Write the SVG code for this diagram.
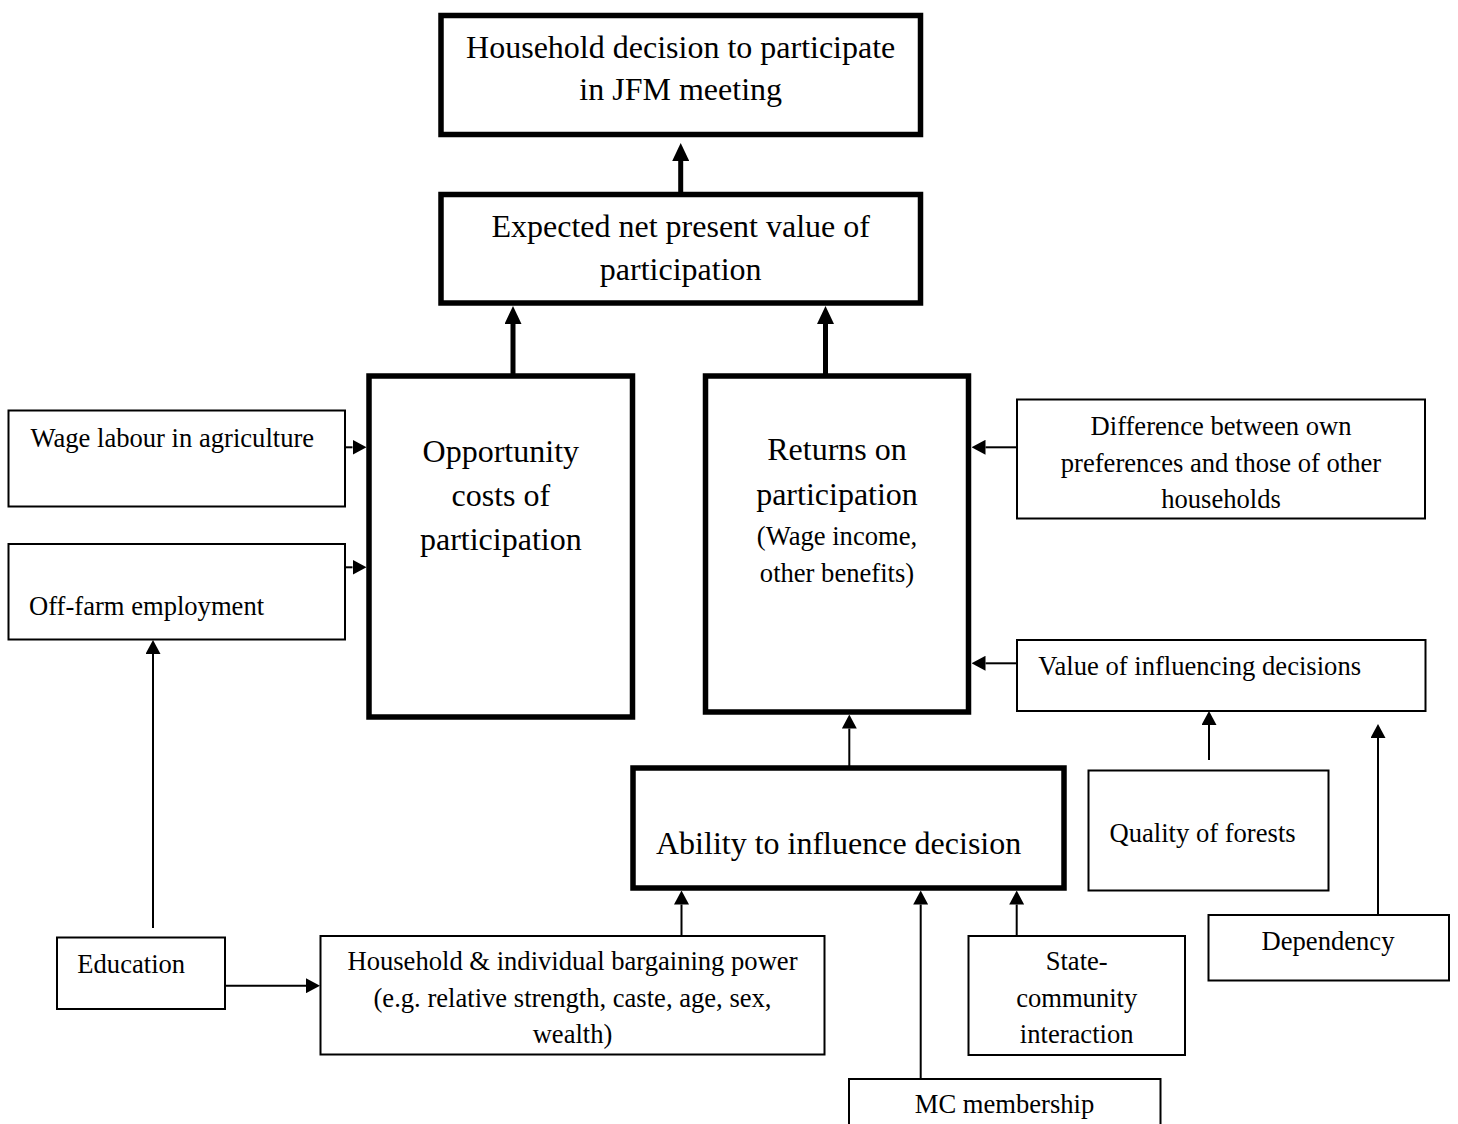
<svg xmlns="http://www.w3.org/2000/svg" width="1458" height="1124" viewBox="0 0 1458 1124">
  <style>
    text { font-family: "Liberation Serif", "Times New Roman", serif; fill: #000; }
    .big { font-size: 32px; }
    .small { font-size: 26.6px; }
    .mid { text-anchor: middle; }
    .thick { fill: #fff; stroke: #000; stroke-width: 5.5; }
    .thin { fill: #fff; stroke: #000; stroke-width: 2; }
    .cthick { stroke: #000; stroke-width: 5; fill: none; }
    .cthin { stroke: #000; stroke-width: 2; fill: none; }
  </style>
  <defs>
    <marker id="ahThick" markerUnits="userSpaceOnUse" viewBox="0 0 18 17" markerWidth="18" markerHeight="17" refX="0" refY="8.5" orient="auto">
      <path d="M0,0 L18,8.5 L0,17 z" fill="#000"/>
    </marker>
    <marker id="ahThin" markerUnits="userSpaceOnUse" viewBox="0 0 14 15" markerWidth="14" markerHeight="15" refX="0" refY="7.5" orient="auto">
      <path d="M0,0 L14,7.5 L0,15 z" fill="#000"/>
    </marker>
  </defs>

  <rect width="1458" height="1124" fill="#fff"/>

  <g id="connectors">
    <line class="cthick" x1="680.7" y1="192" x2="680.7" y2="161" marker-end="url(#ahThick)"/>
    <line class="cthick" x1="513" y1="376" x2="513" y2="324" marker-end="url(#ahThick)"/>
    <line class="cthick" x1="825.5" y1="376" x2="825.5" y2="324" marker-end="url(#ahThick)"/>
    <line class="cthin" x1="345" y1="447.3" x2="352.5" y2="447.3" marker-end="url(#ahThin)"/>
    <line class="cthin" x1="345" y1="567.3" x2="352.5" y2="567.3" marker-end="url(#ahThin)"/>
    <line class="cthin" x1="1017" y1="447.3" x2="985.5" y2="447.3" marker-end="url(#ahThin)"/>
    <line class="cthin" x1="1017" y1="663.3" x2="985.5" y2="663.3" marker-end="url(#ahThin)"/>
    <line class="cthin" x1="849.3" y1="766" x2="849.3" y2="728.5" marker-end="url(#ahThin)"/>
    <line class="cthin" x1="1209" y1="760" x2="1209" y2="725" marker-end="url(#ahThin)"/>
    <line class="cthin" x1="1378" y1="915" x2="1378" y2="738" marker-end="url(#ahThin)"/>
    <line class="cthin" x1="681.5" y1="936" x2="681.5" y2="904.5" marker-end="url(#ahThin)"/>
    <line class="cthin" x1="920.7" y1="1079" x2="920.7" y2="904.5" marker-end="url(#ahThin)"/>
    <line class="cthin" x1="1016.7" y1="936" x2="1016.7" y2="904.5" marker-end="url(#ahThin)"/>
    <line class="cthin" x1="153" y1="928" x2="153" y2="654" marker-end="url(#ahThin)"/>
    <line class="cthin" x1="225" y1="985.7" x2="306" y2="985.7" marker-end="url(#ahThin)"/>
  </g>

  <g id="decision">
    <rect class="thick" x="441" y="15.5" width="479.5" height="119"/>
    <text class="big mid" x="680.7" y="58">Household decision to participate</text>
    <text class="big mid" x="680.7" y="100">in JFM meeting</text>
  </g>

  <g id="npv">
    <rect class="thick" x="441" y="194.5" width="479.5" height="108.5"/>
    <text class="big mid" x="680.7" y="237">Expected net present value of</text>
    <text class="big mid" x="680.7" y="280">participation</text>
  </g>

  <g id="opportunity">
    <rect class="thick" x="369" y="376" width="263.5" height="341"/>
    <text class="big mid" x="500.8" y="461.5">Opportunity</text>
    <text class="big mid" x="500.8" y="505.5">costs of</text>
    <text class="big mid" x="500.8" y="550">participation</text>
  </g>

  <g id="returns">
    <rect class="thick" x="705.5" y="376" width="263" height="336"/>
    <text class="big mid" x="837" y="460">Returns on</text>
    <text class="big mid" x="837" y="505">participation</text>
    <text class="small mid" x="837" y="545">(Wage income,</text>
    <text class="small mid" x="837" y="582">other benefits)</text>
  </g>

  <g id="wage">
    <rect class="thin" x="8.5" y="410.5" width="336.5" height="96"/>
    <text class="small" x="30.5" y="446.7">Wage labour in agriculture</text>
  </g>

  <g id="offfarm">
    <rect class="thin" x="8.5" y="544" width="336.5" height="95.5"/>
    <text class="small" x="29" y="615">Off-farm employment</text>
  </g>

  <g id="difference">
    <rect class="thin" x="1017" y="399.5" width="408" height="119"/>
    <text class="small mid" x="1221" y="435">Difference between own</text>
    <text class="small mid" x="1221" y="471.5">preferences and those of other</text>
    <text class="small mid" x="1221" y="507.5">households</text>
  </g>

  <g id="value">
    <rect class="thin" x="1017" y="640" width="408.5" height="71"/>
    <text class="small" x="1038.3" y="675">Value of influencing decisions</text>
  </g>

  <g id="ability">
    <rect class="thick" x="633" y="768" width="431" height="120"/>
    <text class="big" x="656" y="854">Ability to influence decision</text>
  </g>

  <g id="quality">
    <rect class="thin" x="1088.5" y="770.5" width="240" height="120"/>
    <text class="small" x="1109.5" y="841.7">Quality of forests</text>
  </g>

  <g id="dependency">
    <rect class="thin" x="1208.5" y="915" width="240.5" height="65.5"/>
    <text class="small mid" x="1328" y="950">Dependency</text>
  </g>

  <g id="education">
    <rect class="thin" x="57" y="937.5" width="168" height="71.5"/>
    <text class="small" x="77.3" y="972.7">Education</text>
  </g>

  <g id="bargaining">
    <rect class="thin" x="320.5" y="936" width="504" height="118.5"/>
    <text class="small mid" x="572.5" y="970">Household &amp; individual bargaining power</text>
    <text class="small mid" x="572.5" y="1006.7">(e.g. relative strength, caste, age, sex,</text>
    <text class="small mid" x="572.5" y="1042.5">wealth)</text>
  </g>

  <g id="statecommunity">
    <rect class="thin" x="968.5" y="936" width="216.5" height="119"/>
    <text class="small mid" x="1076.7" y="970">State-</text>
    <text class="small mid" x="1076.7" y="1006.7">community</text>
    <text class="small mid" x="1076.7" y="1043.3">interaction</text>
  </g>

  <g id="mcmembership">
    <rect class="thin" x="849" y="1079" width="311.5" height="60"/>
    <text class="small mid" x="1004.5" y="1113.3">MC membership</text>
  </g>
</svg>
